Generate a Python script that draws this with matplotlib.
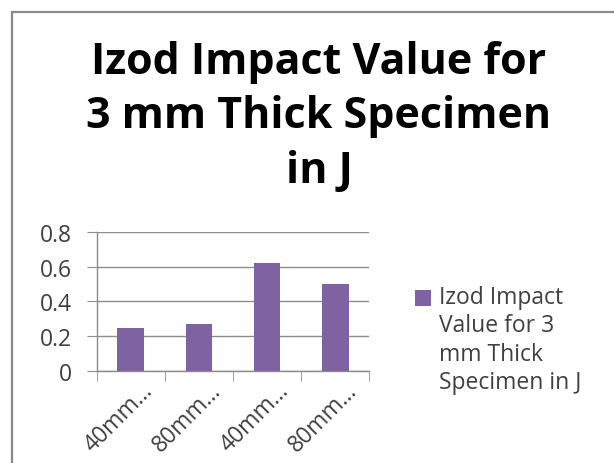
import matplotlib
matplotlib.use("Agg")
import matplotlib.pyplot as plt
from matplotlib.patches import Rectangle
from matplotlib.legend_handler import HandlerPatch
from matplotlib.transforms import ScaledTranslation

categories = ["40mm…", "80mm…", "40mm…", "80mm…"]
values = [0.245, 0.268, 0.618, 0.498]
series_name = "Izod Impact\nValue for 3\nmm Thick\nSpecimen in J"
title = "Izod Impact Value for\n3 mm Thick Specimen\nin J"
yticks = [0, 0.2, 0.4, 0.6, 0.8]
ytick_labels = ["0", "0.2", "0.4", "0.6", "0.8"]

bar_color = "#7F62A1"
grid_color = "#8C8C8C"
text_color = "#404040"

plt.rcParams["font.family"] = ["Open Sans", "DejaVu Sans"]

fig = plt.figure(figsize=(6.14, 4.64), dpi=100)
fig.patch.set_facecolor("white")

# outer chart border
fig.patches.append(Rectangle((12/614, -0.05), 1.2, 1 - 13/464 + 0.05,
                             transform=fig.transFigure, fill=False,
                             edgecolor="#8A8A8A", linewidth=1.6))

ax = fig.add_axes([96.7/614, 92/464, (369.3-96.7)/614, (372-232.7)/464])
x = list(range(len(categories)))
bars = ax.bar(x, values, width=0.39, color=bar_color, zorder=3)
ax.set_xlim(-0.5, len(categories) - 0.5)
ax.set_ylim(0, 0.8)
ax.set_yticks(yticks)
ax.set_yticklabels(ytick_labels)
ax.yaxis.grid(True, color=grid_color, linewidth=1.0, zorder=0)
for s in ["top", "right"]:
    ax.spines[s].set_visible(False)
for s in ["left", "bottom"]:
    ax.spines[s].set_color(grid_color)
    ax.spines[s].set_linewidth(1.0)

ax.set_xticks(x)
ax.set_xticklabels(categories, rotation=45, ha="right", rotation_mode="anchor",
                   fontsize=16.5, color=text_color)
ax.tick_params(axis="x", which="major", length=0, pad=5)
off = ScaledTranslation(10/100, 0, fig.dpi_scale_trans)
for lab in ax.get_xticklabels():
    lab.set_transform(lab.get_transform() + off)
ax.set_xticks([i - 0.5 for i in range(len(categories) + 1)], minor=True)
ax.tick_params(axis="x", which="minor", length=7, color=grid_color, direction="out")
ax.tick_params(axis="y", length=7, color=grid_color, labelsize=16.5,
               labelcolor=text_color, pad=11)

fig.text(319/614, 1 - 117/464, title, ha="center", va="center",
         fontsize=31, fontweight="bold", color="black", linespacing=1.36)


class TopHandler(HandlerPatch):
    shift = 0.0

    def create_artists(self, legend, orig_handle, xdescent, ydescent, width,
                       height, fontsize, trans):
        r = Rectangle((-xdescent, -ydescent + self.shift), width, height,
                      facecolor=orig_handle.get_facecolor(), edgecolor="none",
                      transform=trans)
        return [r]


handler = TopHandler()
handle = bars.patches[0]
LEG_FS = 16.5
LEG_LS = 1.25


def make_legend():
    lg = fig.legend(handles=[handle], labels=[series_name], loc="upper left",
                    bbox_to_anchor=(394/614, 1 - 265/464), frameon=False,
                    fontsize=LEG_FS, handlelength=0.72, handleheight=0.72,
                    handletextpad=0.35, labelcolor=text_color,
                    handler_map={handle: handler})
    for t in lg.get_texts():
        t.set_linespacing(LEG_LS)
    return lg


leg = make_legend()
fig.canvas.draw()
renderer = fig.canvas.get_renderer()
tbb = leg.get_texts()[0].get_window_extent(renderer)
hbb = leg.legend_handles[0].get_window_extent(renderer)
nlines = series_name.count("\n") + 1
line_px = tbb.height / nlines
desired_center = tbb.y1 - line_px / 2
current_center = (hbb.y0 + hbb.y1) / 2
handler.shift = (desired_center - current_center) * 72 / fig.dpi
leg.remove()
leg = make_legend()

fig.savefig("out.png", dpi=100)
